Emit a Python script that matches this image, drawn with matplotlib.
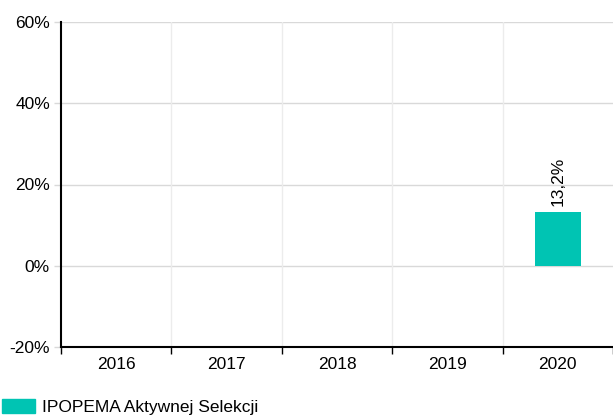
import matplotlib
matplotlib.use("Agg")
import matplotlib.pyplot as plt
from matplotlib.patches import Patch

years = ["2016", "2017", "2018", "2019", "2020"]
values = [None, None, None, None, 13.2]
series_name = "IPOPEMA Aktywnej Selekcji"
yticks = [-20, 0, 20, 40, 60]
color = "#00c4b3"

plt.rcParams['font.family'] = ['Liberation Sans', 'DejaVu Sans']

fig = plt.figure(figsize=(6.13, 4.16), dpi=100)
ax = fig.add_axes([61/613, 1-347/416, 1-61/613, (347-22)/416])

xs = list(range(len(years)))
for x, v in zip(xs, values):
    if v is not None:
        ax.bar(x, v, width=0.42, color=color, zorder=3)
        ax.text(x, v + 1.5, f"{v:.1f}%".replace(".", ","), rotation=90,
                ha="center", va="bottom", fontsize=12.5, color="#000000", zorder=4)

ax.set_xlim(-0.5, len(years) - 0.5)
ax.set_ylim(-20, 60)
ax.set_yticks(yticks)
ax.set_yticklabels([f"{t}%" for t in yticks])
ax.set_xticks(xs)
ax.set_xticklabels(years)
ax.set_xticks([i + 0.5 for i in range(-1, len(years))], minor=True)

for y in yticks:
    if y != -20:
        ax.axhline(y, color="#d9d9d9", lw=1, zorder=1)
for i in range(len(years) - 1):
    ax.axvline(i + 0.5, color="#ececec", lw=1, zorder=1)

for s in ["top", "right"]:
    ax.spines[s].set_visible(False)
ax.spines["left"].set_linewidth(1.5)
ax.spines["bottom"].set_linewidth(1.5)
ax.tick_params(axis="x", which="major", length=0, labelsize=12.5, pad=7)
ax.tick_params(axis="x", which="minor", length=5, width=1)
ax.tick_params(axis="y", length=5, width=1, labelsize=12.5, pad=3, color="#d9d9d9")

fig.legend(handles=[Patch(color=color)], labels=[series_name],
           loc="lower left", bbox_to_anchor=(2/613, 1/416), frameon=False,
           fontsize=12.5, handlelength=1.9, handleheight=0.9, handletextpad=0.4,
           borderaxespad=0, borderpad=0)

fig.savefig("out.png", dpi=100)
